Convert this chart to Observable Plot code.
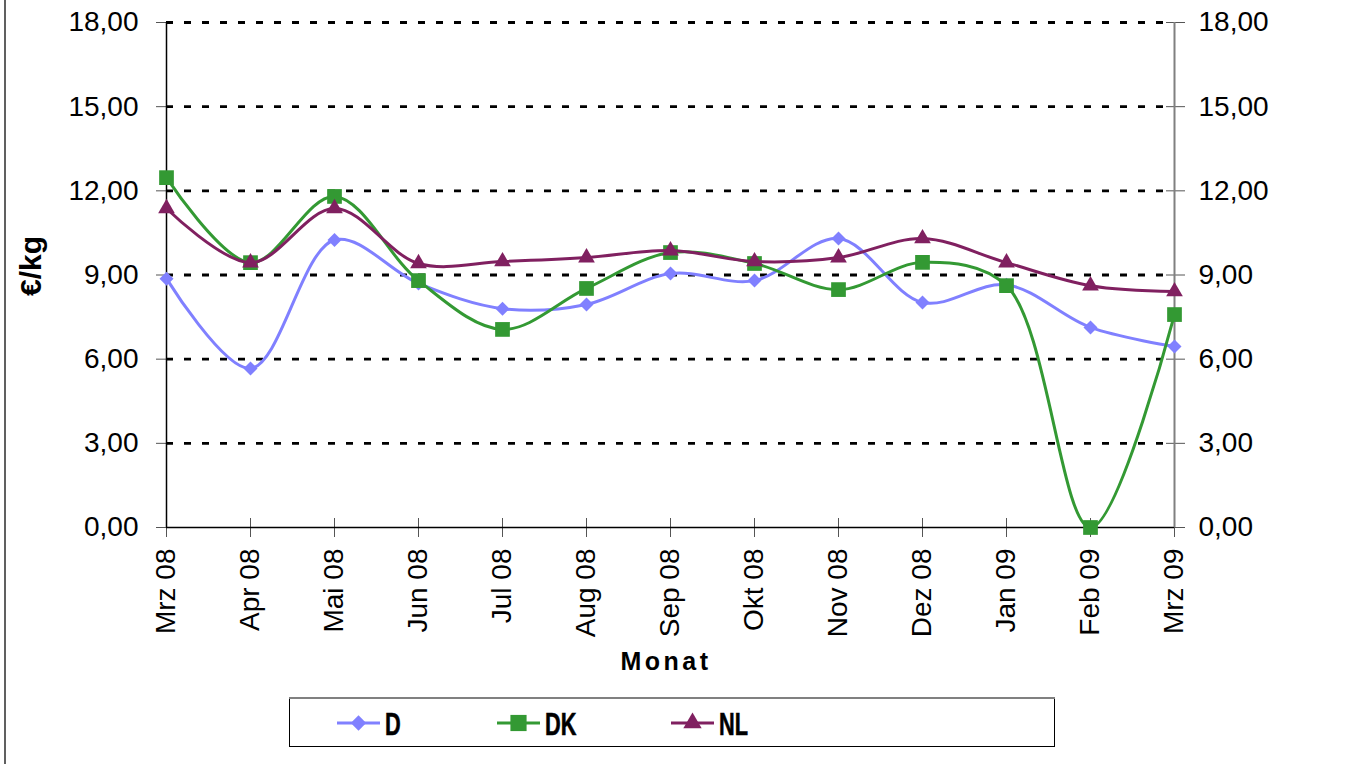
<!DOCTYPE html>
<html>
<head>
<meta charset="utf-8">
<script src="https://cdn.jsdelivr.net/npm/d3@7"></script>
<script src="https://cdn.jsdelivr.net/npm/@observablehq/plot@0.6"></script>
<style>
  html, body { margin: 0; padding: 0; background: #fff; }
  #wrap { position: relative; width: 1362px; height: 764px; overflow: hidden; }
  #overlay { position: absolute; left: 0; top: 0; pointer-events: none; }
</style>
</head>
<body>
<div id="wrap"></div>
<script>
// ---- data ----
const months = ["Mrz 08","Apr 08","Mai 08","Jun 08","Jul 08","Aug 08","Sep 08","Okt 08","Nov 08","Dez 08","Jan 09","Feb 09","Mrz 09"];
const valuesD  = [8.87, 5.67, 10.25, 8.70, 7.80, 7.95, 9.05, 8.80, 10.30, 8.02, 8.65, 7.13, 6.45];
const valuesDK = [12.47, 9.44, 11.80, 8.80, 7.06, 8.52, 9.80, 9.41, 8.48, 9.45, 8.62, 0.00, 7.59];
const valuesNL = [11.37, 9.44, 11.37, 9.41, 9.48, 9.62, 9.87, 9.48, 9.62, 10.30, 9.44, 8.62, 8.41];
const seriesNames = ["D", "DK", "NL"];
const seriesColors = ["#8080FF", "#339933", "#802060"];
const seriesSymbols = ["diamond2", "square", "triangle"];
const seriesR = [6.3, 8.3, 6.2];
const yTicks = [0, 3, 6, 9, 12, 15, 18];
const yGrid = [3, 6, 9, 12, 15, 18];
const xTitle = "Monat";
const yTitle = "€/kg";

const allValues = [valuesD, valuesDK, valuesNL];
const rows = [];
seriesNames.forEach((s, i) => months.forEach((m, j) => rows.push({series: s, month: m, value: allValues[i][j]})));

const fmt = d => d.toFixed(2).replace(".", ",");
const W = 1362, H = 764;
const mL = 166, mR = 188, mT = 22, mB = 237;

const seriesMarks = [];
seriesNames.forEach((s, i) => {
  const data = rows.filter(r => r.series === s);
  seriesMarks.push(Plot.line(data, {x: "month", y: "value", stroke: seriesColors[i], strokeWidth: 3, curve: "catmull-rom"}));
  seriesMarks.push(Plot.dot(data, {x: "month", y: "value", fill: seriesColors[i], stroke: "none", symbol: seriesSymbols[i], r: seriesR[i]}));
});

const chart = Plot.plot({
  width: W, height: H,
  marginLeft: mL, marginRight: mR, marginTop: mT, marginBottom: mB,
  style: {fontFamily: "'Liberation Sans', Arial, sans-serif", fontSize: "28px", color: "#000", background: "#fff", overflow: "visible"},
  x: {type: "point", domain: months, padding: 0},
  y: {domain: [0, 18]},
  marks: [
    Plot.ruleY(yGrid, {stroke: "#000", strokeWidth: 2.8, strokeDasharray: "7,11"}),
    Plot.axisY({anchor: "left", ticks: yTicks, tickFormat: fmt, tickSize: 10, tickPadding: 18, label: null, stroke: "#555", fontSize: 28}),
    Plot.axisY({anchor: "right", ticks: yTicks, tickFormat: fmt, tickSize: 0, tickPadding: 24, label: null, fontSize: 28}),
    Plot.axisY({anchor: "right", ticks: yTicks, tickFormat: () => "", tickSize: 19, dx: -9, label: null, stroke: "#555"}),
    Plot.axisX({tickRotate: -90, tickSize: 0, tickPadding: 21, label: null, fontSize: 28}),
    Plot.axisX({tickSize: 19, dy: -9, tickFormat: () => "", label: null, stroke: "#555"}),
    Plot.ruleY([0], {stroke: "#000", strokeWidth: 1.5}),
    Plot.ruleX([months[0]], {stroke: "#000", strokeWidth: 1.5}),
    Plot.ruleX([months[months.length - 1]], {stroke: "#808080", strokeWidth: 2}),
    ...seriesMarks
  ]
});

const wrap = document.getElementById("wrap");
wrap.appendChild(chart);

// ---- overlay: titles, legend, frame line ----
const ov = d3.select(wrap).append("svg").attr("id", "overlay").attr("width", W).attr("height", H)
  .style("font-family", "'Liberation Sans', Arial, sans-serif");

// left frame line
ov.append("line").attr("x1", 5).attr("x2", 5).attr("y1", 0).attr("y2", H).attr("stroke", "#606060").attr("stroke-width", 2);

// x title
ov.append("text").attr("x", 666).attr("y", 670).attr("text-anchor", "middle")
  .attr("font-size", 25).attr("font-weight", "bold").attr("letter-spacing", "3.5px").text(xTitle);

// y title
ov.append("text").attr("transform", "translate(41,266) rotate(-90)").attr("text-anchor", "middle")
  .attr("font-size", 30).attr("font-weight", "bold").text(yTitle);

// legend box
const lg = ov.append("g");
lg.append("rect").attr("x", 289.5).attr("y", 698.5).attr("width", 765).attr("height", 48)
  .attr("fill", "#fff").attr("stroke", "#000").attr("stroke-width", 1);
lg.append("line").attr("x1", 289).attr("x2", 1055).attr("y1", 698).attr("y2", 698).attr("stroke", "#808080").attr("stroke-width", 2);

const legendX = [337, 497, 671];
const symMap = {diamond2: d3.symbolDiamond2, square: d3.symbolSquare, triangle: d3.symbolTriangle};
seriesNames.forEach((s, i) => {
  const x0 = legendX[i], cy = 723;
  lg.append("line").attr("x1", x0).attr("x2", x0 + 43).attr("y1", cy).attr("y2", cy)
    .attr("stroke", seriesColors[i]).attr("stroke-width", 3);
  const r = seriesR[i] * 1.1;
  lg.append("path").attr("d", d3.symbol(symMap[seriesSymbols[i]], Math.PI * r * r)())
    .attr("transform", `translate(${x0 + 21.5},${cy})`).attr("fill", seriesColors[i]);
  lg.append("text").attr("transform", `translate(${x0 + 48},${cy + 11.5}) scale(0.68,1)`)
    .attr("font-size", 32).attr("font-weight", "bold").attr("stroke", "#000").attr("stroke-width", 0.6).text(s);
});
</script>
</body>
</html>
